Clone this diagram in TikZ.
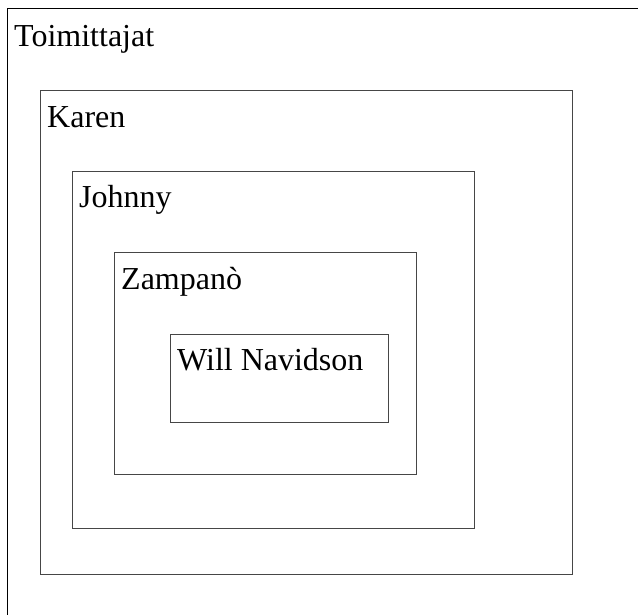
\documentclass[tikz,border=0pt]{standalone}
\usepackage{fontspec}
\setmainfont{Liberation Serif}
\usepackage{tikz}
\usetikzlibrary{positioning,calc}
\definecolor{edge}{RGB}{70,70,70}
\tikzset{
  frame/.style={rectangle,draw=edge,line width=1pt,inner sep=0pt,outer sep=0pt,anchor=north west},
  lbl/.style={anchor=base west,inner sep=0pt,font=\fontsize{32}{38}\selectfont},
}
\begin{document}
\begin{tikzpicture}[x=1pt,y=-1pt]
  \useasboundingbox (0,0) rectangle (638,615);
  \clip (0,0) rectangle (638,615);
  % nested boxes, outermost first
  \node[frame,draw=black,minimum width=660pt,minimum height=640pt] (toim) at (7,9) {};
  \node[frame,minimum width=532pt,minimum height=483pt] (karen) at (40,91) {};
  \node[frame,minimum width=402pt,minimum height=356pt] (johnny) at (72,172) {};
  \node[frame,minimum width=302pt,minimum height=221pt] (zampano) at (114,253) {};
  \node[frame,minimum width=218pt,minimum height=88pt] (will) at (170,334) {};

  % labels
  \node[lbl] (ltoim) at ($(toim.north west)+(7,38)$) {Toimittajat};
  \node[lbl] (lkaren) at ($(karen.north west)+(7,37)$) {Karen};
  \node[lbl] (ljohnny) at ($(johnny.north west)+(7,36)$) {Johnny};
  \node[lbl] (lzampano) at ($(zampano.north west)+(7,37)$) {Zampanò};
  \node[lbl] (lwill) at ($(will.north west)+(7,36)$) {Will Navidson};
\end{tikzpicture}
\end{document}
